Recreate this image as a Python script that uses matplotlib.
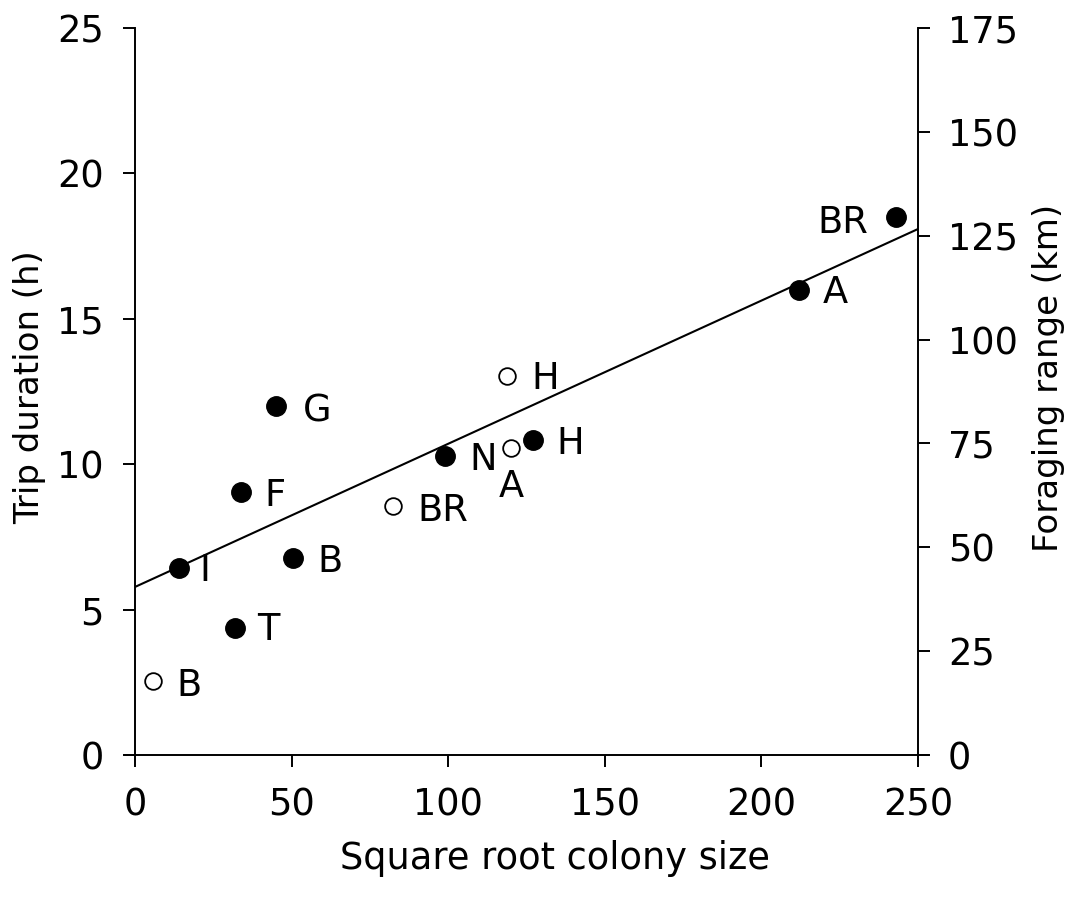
import matplotlib
matplotlib.use("Agg")
import matplotlib.pyplot as plt

# Filled symbols (trip duration)
filled_labels = ["BR", "A", "H", "N", "G", "F", "B", "I", "T"]
filled_x = [243, 212, 127, 99, 45, 33.8, 50.4, 14, 32]
filled_y = [18.5, 16.0, 10.83, 10.3, 12.0, 9.04, 6.77, 6.43, 4.37]

# Open symbols
open_labels = ["H", "A", "BR", "B"]
open_x = [118.8, 120, 82.4, 5.7]
open_y = [13.03, 10.56, 8.56, 2.54]

# Regression line
line_x = [0, 250]
line_y = [5.78, 18.09]

x_ticks = [0, 50, 100, 150, 200, 250]
y_ticks = [0, 5, 10, 15, 20, 25]
y2_ticks = [0, 25, 50, 75, 100, 125, 150, 175]

FS = 26.5
LFS = 24.5
plt.rcParams['font.family'] = ['DejaVu Sans Condensed', 'DejaVu Sans']

fig = plt.figure(figsize=(10.78, 9.05), dpi=100)
ax = fig.add_axes([0.1252, 0.1657, 0.7264, 0.8033])

ax.plot(line_x, line_y, color='black', lw=1.5, zorder=2)
ax.plot(filled_x, filled_y, 'o', ms=14, mfc='black', mec='black', zorder=3, clip_on=False)
ax.plot(open_x, open_y, 'o', ms=12, mfc='white', mec='black', mew=1.3, zorder=3, clip_on=False)

# label offsets in pixels (dx, dy) and alignment
filled_off = {
    "BR": (-28, -5, 'right'), "A": (24, -3, 'left'), "H": (24, -3, 'left'),
    "N": (24, -4, 'left'), "G": (27, -5, 'left'), "F": (24, -3, 'left'),
    "B": (25, -3, 'left'), "I": (21, -2, 'left'), "T": (22, -2, 'left'),
}
open_off = {
    "H": (24, -2, 'left'), "A": (0, -39, 'center'), "BR": (24, -4, 'left'),
    "B": (24, -4, 'left'),
}
for lab, x, y in zip(filled_labels, filled_x, filled_y):
    dx, dy, ha = filled_off[lab]
    ax.annotate(lab, (x, y), xytext=(dx, dy), textcoords='offset pixels',
                ha=ha, va='center', fontsize=FS)
for lab, x, y in zip(open_labels, open_x, open_y):
    dx, dy, ha = open_off[lab]
    ax.annotate(lab, (x, y), xytext=(dx, dy), textcoords='offset pixels',
                ha=ha, va='center', fontsize=FS)

ax.set_xlim(0, 250)
ax.set_ylim(0, 25)
ax.set_xticks(x_ticks)
ax.set_yticks(y_ticks)
ax.spines['top'].set_visible(False)
ax.spines['right'].set_visible(False)
for s in ['left', 'bottom']:
    ax.spines[s].set_linewidth(1.4)
ax.spines['bottom'].set_bounds(-3.2, 253.2)
ax.tick_params(axis='both', direction='out', length=8.5, width=1.4, labelsize=FS, pad=14)
ax.set_xlabel("Square root colony size", fontsize=FS)
ax.xaxis.set_label_coords(0.536, -0.1417)
ax.xaxis.label.set_va('center')
ax.set_ylabel("Trip duration (h)", fontsize=LFS)
ax.yaxis.set_label_coords(-0.135, 0.506)
ax.yaxis.label.set_va('center')

ax2 = ax.twinx()
ax2.set_ylim(0, 175)
ax2.set_yticks(y2_ticks)
for s in ['top', 'left', 'bottom']:
    ax2.spines[s].set_visible(False)
ax2.spines['right'].set_linewidth(1.4)
ax2.tick_params(axis='y', direction='out', length=8.5, width=1.4, labelsize=FS, pad=13)
ax2.set_ylabel("Foraging range (km)", fontsize=LFS)
ax2.yaxis.set_label_coords(1.166, 0.519)
ax2.yaxis.label.set_va('center')

fig.savefig("out.png", dpi=100)
